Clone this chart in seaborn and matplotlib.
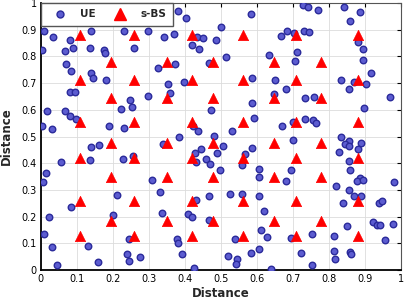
import matplotlib
matplotlib.use("Agg")
import matplotlib.pyplot as plt
import seaborn as sns
import pandas as pd
from matplotlib.lines import Line2D

ue_x = [0.009, 0.034, 0.082, 0.138, 0.231, 0.002, 0.068, 0.088, 0.137, 0.174,
        0.177, 0.259, 0.069, 0.083, 0.139, 0.144, 0.181, 0.082, 0.096, 0.381,
        0.402, 0.583, 0.501, 0.298, 0.341, 0.370, 0.433, 0.449, 0.487, 0.419,
        0.439, 0.326, 0.373, 0.466, 0.515, 0.635, 0.352, 0.398, 0.587, 0.298,
        0.358, 0.727, 0.741, 0.770, 0.841, 0.886, 0.860, 0.667, 0.685, 0.702,
        0.732, 0.745, 0.880, 0.711, 0.707, 0.895, 0.894, 0.917, 0.650, 0.834,
        0.870, 0.902, 0.680, 0.856, 0.647, 0.735, 0.760, 0.971, 0.018, 0.068,
        0.082, 0.097, 0.002, 0.031, 0.189, 0.222, 0.247, 0.254, 0.231, 0.140,
        0.162, 0.056, 0.136, 0.229, 0.255, 0.013, 0.005, 0.212, 0.586, 0.472,
        0.593, 0.423, 0.437, 0.532, 0.384, 0.481, 0.340, 0.507, 0.586, 0.446,
        0.429, 0.488, 0.460, 0.432, 0.469, 0.567, 0.558, 0.497, 0.606, 0.606,
        0.309, 0.332, 0.466, 0.525, 0.558, 0.897, 0.670, 0.701, 0.733, 0.757,
        0.764, 0.700, 0.835, 0.856, 0.844, 0.856, 0.888, 0.880, 0.828, 0.856,
        0.696, 0.858, 0.680, 0.886, 0.877, 0.895, 0.980, 0.819, 0.856, 0.870,
        0.888, 0.084, 0.022, 0.200, 0.008, 0.031, 0.130, 0.044, 0.158, 0.244,
        0.240, 0.246, 0.275, 0.432, 0.605, 0.621, 0.337, 0.408, 0.419, 0.466,
        0.611, 0.627, 0.379, 0.382, 0.393, 0.540, 0.521, 0.544, 0.542, 0.585,
        0.606, 0.425, 0.640, 0.839, 0.938, 0.948, 0.850, 0.924, 0.935, 0.941,
        0.979, 0.695, 0.752, 0.815, 0.957, 0.724, 0.815, 0.859, 0.862, 0.817,
        0.753]
ue_y = [0.895, 0.871, 0.861, 0.896, 0.895, 0.824, 0.820, 0.833, 0.833, 0.824,
        0.814, 0.830, 0.770, 0.745, 0.738, 0.720, 0.712, 0.668, 0.666, 0.971,
        0.943, 0.958, 0.909, 0.896, 0.873, 0.885, 0.874, 0.868, 0.861, 0.844,
        0.828, 0.755, 0.773, 0.777, 0.797, 0.804, 0.696, 0.704, 0.720, 0.653,
        0.664, 0.991, 0.986, 0.974, 0.984, 0.968, 0.933, 0.876, 0.896, 0.889,
        0.896, 0.891, 0.855, 0.815, 0.783, 0.827, 0.787, 0.737, 0.712, 0.712,
        0.705, 0.695, 0.678, 0.677, 0.658, 0.644, 0.648, 0.649, 0.597, 0.594,
        0.578, 0.566, 0.540, 0.527, 0.540, 0.603, 0.636, 0.611, 0.531, 0.462,
        0.468, 0.403, 0.412, 0.415, 0.428, 0.362, 0.328, 0.280, 0.627, 0.599,
        0.568, 0.539, 0.522, 0.521, 0.499, 0.503, 0.471, 0.466, 0.458, 0.454,
        0.438, 0.439, 0.416, 0.406, 0.396, 0.433, 0.393, 0.375, 0.378, 0.348,
        0.338, 0.293, 0.279, 0.286, 0.286, 0.605, 0.539, 0.555, 0.564, 0.562,
        0.551, 0.487, 0.499, 0.484, 0.471, 0.466, 0.477, 0.452, 0.442, 0.408,
        0.375, 0.375, 0.334, 0.346, 0.333, 0.337, 0.331, 0.316, 0.301, 0.278,
        0.278, 0.235, 0.197, 0.207, 0.135, 0.085, 0.091, 0.019, 0.029, 0.116,
        0.061, 0.035, 0.050, 0.262, 0.277, 0.222, 0.212, 0.210, 0.197, 0.187,
        0.150, 0.125, 0.115, 0.102, 0.059, 0.115, 0.052, 0.041, 0.024, 0.063,
        0.078, 0.006, 0.002, 0.250, 0.250, 0.258, 0.166, 0.180, 0.170, 0.167,
        0.172, 0.119, 0.136, 0.126, 0.112, 0.062, 0.070, 0.069, 0.061, 0.042,
        0.018]

bs_x = [0.108, 0.258, 0.420, 0.561, 0.708, 0.881,
        0.108, 0.258, 0.420, 0.561, 0.708, 0.881,
        0.108, 0.258, 0.420, 0.561, 0.708, 0.881,
        0.108, 0.258, 0.420, 0.561, 0.708, 0.881,
        0.108, 0.258, 0.420, 0.561, 0.708, 0.881,
        0.108, 0.258, 0.420, 0.561, 0.708, 0.881,
        0.194, 0.350, 0.478, 0.647, 0.778,
        0.194, 0.350, 0.478, 0.647, 0.778,
        0.194, 0.350, 0.478, 0.647, 0.778,
        0.194, 0.350, 0.478, 0.647, 0.778,
        0.194, 0.350, 0.478, 0.647, 0.778]
bs_y = [0.880] * 6 + [0.712] * 6 + [0.554] * 6 + [0.419] * 6 + [0.258] * 6 + [0.127] * 6 + \
       [0.779] * 5 + [0.646] * 5 + [0.476] * 5 + [0.348] * 5 + [0.184] * 5

xticks = [0, 0.1, 0.2, 0.3, 0.4, 0.5, 0.6, 0.7, 0.8, 0.9, 1]
tick_labels = ["0", "0.1", "0.2", "0.3", "0.4", "0.5", "0.6", "0.7", "0.8", "0.9", "1"]

ue_df = pd.DataFrame({"x": ue_x, "y": ue_y})
bs_df = pd.DataFrame({"x": bs_x, "y": bs_y})

sns.set_style("white")
plt.rcParams["font.family"] = ["DejaVu Sans"]

fig = plt.figure(figsize=(4.09, 3.01), dpi=100)
ax = fig.add_axes([0.100, 0.103, 0.880, 0.887])

ue_face = "#5c5cd0"
ue_edge = "#2a2a9a"
bs_col = "#ff0000"

sns.scatterplot(data=ue_df, x="x", y="y", ax=ax, s=22, marker="o",
                color=ue_face, edgecolor=ue_edge, linewidth=1.0, zorder=3)
sns.scatterplot(data=bs_df, x="x", y="y", ax=ax, s=55, marker="^",
                color=bs_col, edgecolor=bs_col, linewidth=0.5, zorder=4)

ax.set_xlim(0, 1)
ax.set_ylim(0, 1)
ax.set_xticks(xticks)
ax.set_yticks(xticks)
ax.set_xticklabels(tick_labels, fontsize=7)
ax.set_yticklabels(tick_labels, fontsize=7)
ax.grid(True, color="#dcdcdc", linewidth=0.6, zorder=0)
ax.set_axisbelow(True)
ax.tick_params(direction="in", length=3, width=0.8, top=True, right=True,
               pad=3, colors="black")
for side in ["left", "bottom"]:
    ax.spines[side].set_linewidth(1.3)
    ax.spines[side].set_color("black")
for side in ["top", "right"]:
    ax.spines[side].set_linewidth(0.8)
    ax.spines[side].set_color("#555555")

ax.set_xlabel("Distance", fontsize=8.5, fontweight="bold", labelpad=2)
ax.set_ylabel("Distance", fontsize=8.5, fontweight="bold", labelpad=6)

handles = [
    Line2D([], [], marker="o", linestyle="none", markersize=5,
           markerfacecolor=ue_face, markeredgecolor=ue_edge, markeredgewidth=1.0),
    Line2D([], [], marker="^", linestyle="none", markersize=8,
           markerfacecolor=bs_col, markeredgecolor=bs_col),
]
leg = ax.legend(handles, ["UE", "s-BS"], loc="upper left", ncol=2,
                frameon=True, fancybox=False, borderaxespad=0,
                prop={"weight": "bold", "size": 7.5}, handletextpad=0.8,
                columnspacing=1.1, borderpad=0.6, handlelength=2.4)
leg.get_frame().set_edgecolor("#555555")
leg.get_frame().set_linewidth(1.0)
leg.get_frame().set_alpha(1.0)
leg.set_zorder(10)

fig.savefig("out.png", dpi=100)
